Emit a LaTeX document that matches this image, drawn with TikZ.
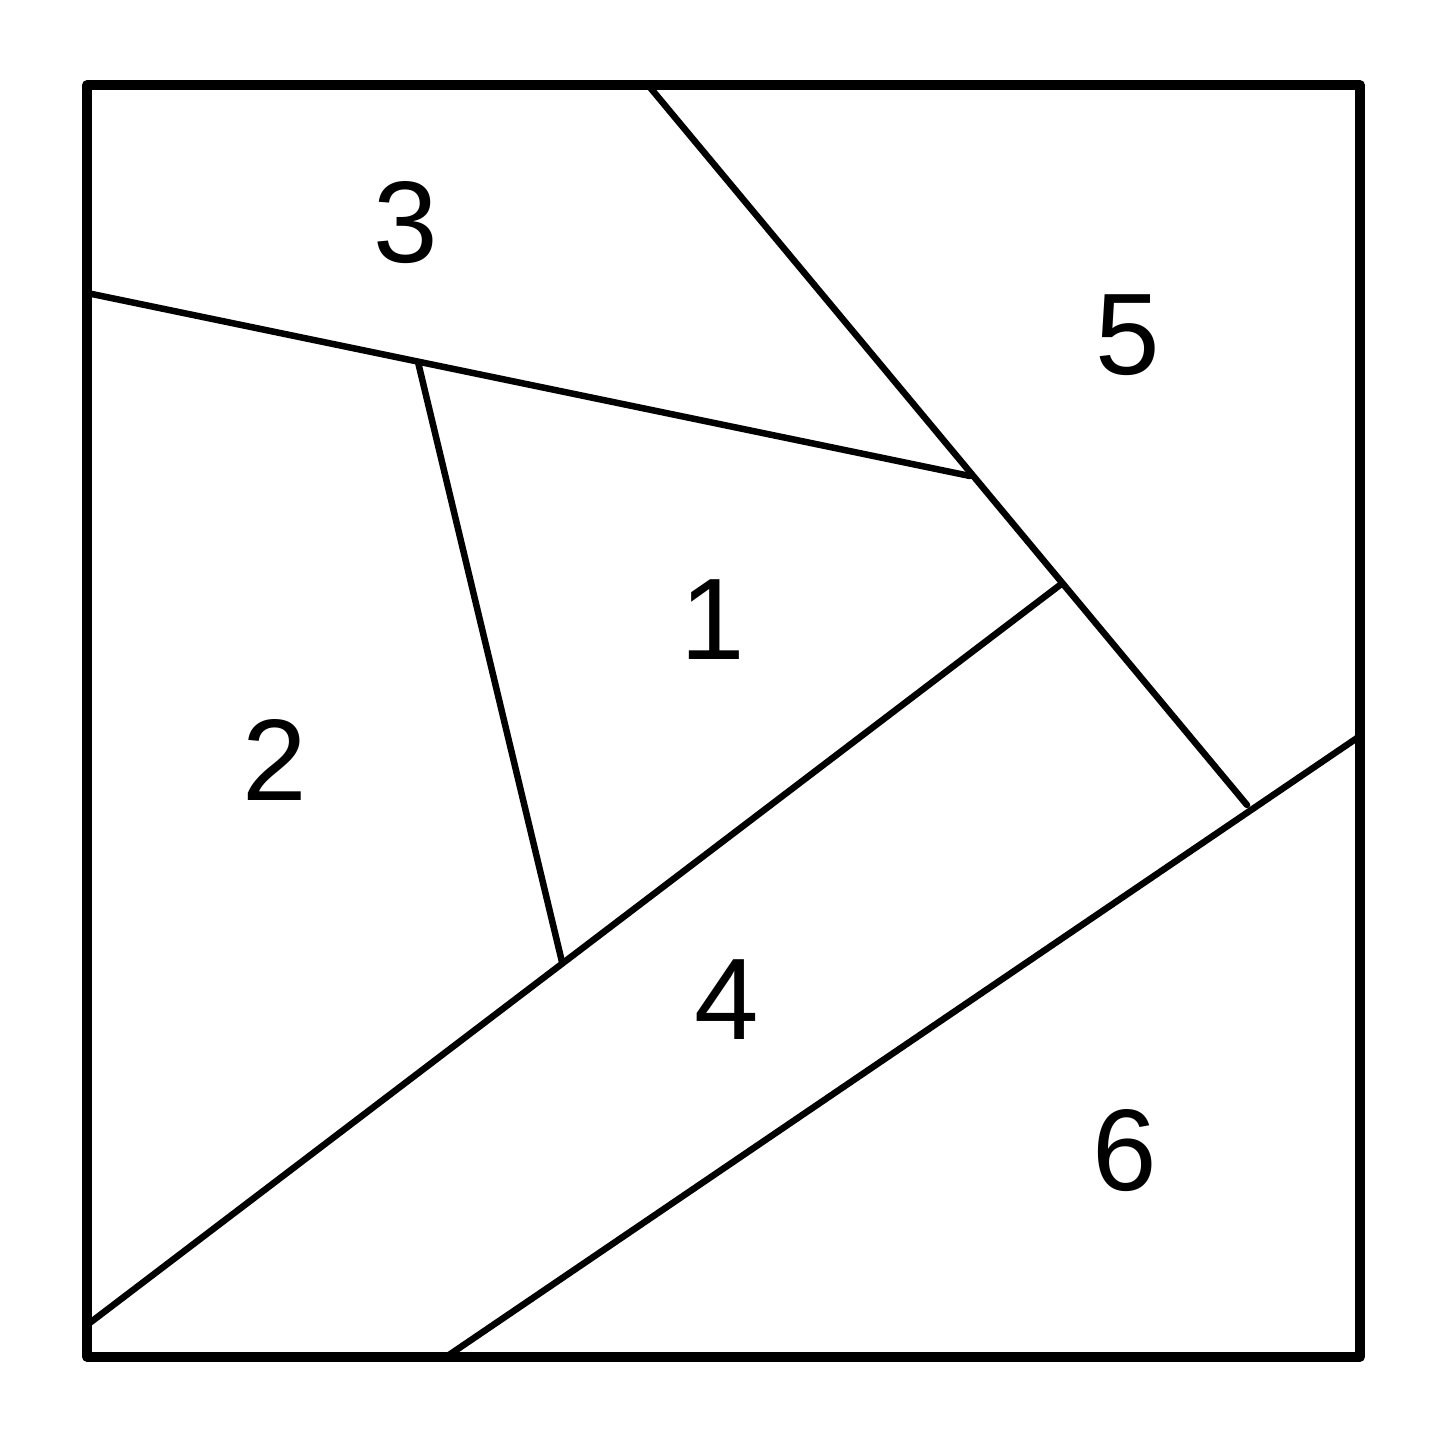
\documentclass[tikz,border=0pt]{standalone}
\usepackage{fontspec}
\setmainfont{Liberation Sans}
\begin{document}
\begin{tikzpicture}[x=1pt,y=-1pt,
  frame/.style={line width=9.5pt,line join=round},
  seam/.style={line width=6.5pt,line cap=round},
  lbl/.style={inner sep=0pt,font=\fontsize{116}{120}\selectfont}]
\useasboundingbox (0,0) rectangle (1445,1445);
% corners of the block
\coordinate (TL) at (87,85);
\coordinate (BR) at (1360,1357);
% seam end points
\coordinate (a1) at (87,293);
\coordinate (ab) at (970,476);
\coordinate (b0) at (648,85);
\coordinate (bd) at (1060,585);
\coordinate (be) at (1247,805);
\coordinate (c0) at (418,362);
\coordinate (c1) at (562,962);
\coordinate (d0) at (87,1325);
\coordinate (e0) at (446,1357);
\coordinate (e1) at (1360,736);
\draw[seam] (a1) -- (ab);
\draw[seam] (b0) -- (be);
\draw[seam] (c0) -- (c1);
\draw[seam] (d0) -- (bd);
\draw[seam] (e0) -- (e1);
\draw[frame] (TL) rectangle (BR);
\node[lbl] (n1) at (713,620) {1};
\node[lbl] (n2) at (275,760) {2};
\node[lbl] (n3) at (406,223) {3};
\node[lbl] (n4) at (727,1000) {4};
\node[lbl] (n5) at (1128,335) {5};
\node[lbl] (n6) at (1125,1151) {6};
\end{tikzpicture}
\end{document}
